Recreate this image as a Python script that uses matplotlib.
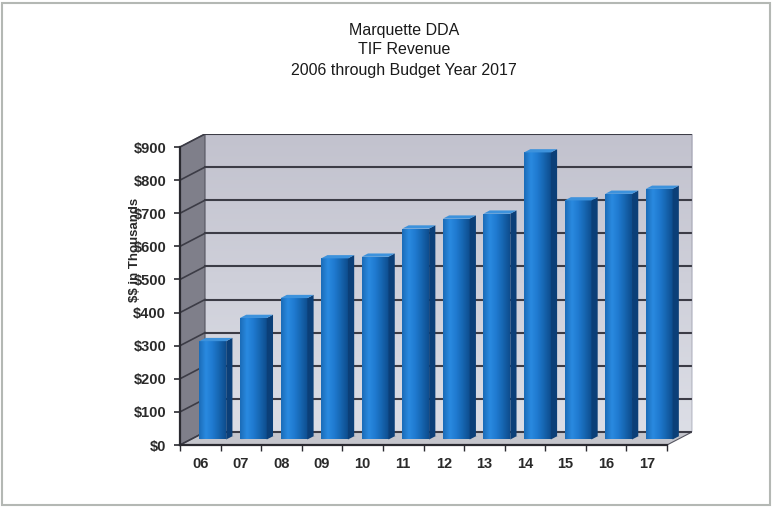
import matplotlib.pyplot as plt
from matplotlib.patches import Polygon, Rectangle
import numpy as np

plt.rcParams['font.family'] = ['Liberation Sans', 'DejaVu Sans']
plt.rcParams['text.parse_math'] = False

years = ['06', '07', '08', '09', '10', '11', '12', '13', '14', '15', '16', '17']
revenue = [300, 370, 430, 550, 555, 640, 670, 685, 870, 725, 745, 760]  # $ thousands
yticks = list(range(0, 901, 100))
ytick_labels = ['$%d' % t for t in yticks]
title_lines = ['Marquette DDA', 'TIF Revenue', '2006 through Budget Year 2017']

# depth of the fake 3d box, in data units
DX = 0.616
DY = 39.3
n = len(years)
x = np.arange(n)

fig = plt.figure(figsize=(7.72, 5.08), dpi=100)
fig.patch.set_facecolor('white')
ax = fig.add_axes([180 / 772, 1 - 445 / 508, 512 / 772, 311 / 508])
ax.set_xlim(-0.5, n - 0.5 + DX)
ax.set_ylim(0, 900 + DY)
ax.set_facecolor('none')

x0, x1 = -0.5, n - 0.5

# back wall with a soft vertical gradient
grad = np.linspace(0, 1, 256).reshape(-1, 1)
wall_cmap = plt.matplotlib.colors.LinearSegmentedColormap.from_list(
    'wall', ['#dcdee6', '#c2c2ce'])
ax.imshow(grad, cmap=wall_cmap, aspect='auto', origin='lower',
          extent=(x0 + DX, x1 + DX, DY, 900 + DY), zorder=0)

# left side wall
side = Polygon([(x0, 0), (x0 + DX, DY), (x0 + DX, 900 + DY), (x0, 900)],
               closed=True, facecolor='#7f7f8a', edgecolor='#555560', lw=0.8, zorder=1)
ax.add_patch(side)
# floor
floor = Polygon([(x0, 0), (x1, 0), (x1 + DX, DY), (x0 + DX, DY)],
                closed=True, facecolor='#c4c5cc', edgecolor='#555560', lw=0.8, zorder=1)
ax.add_patch(floor)

# gridlines on back and side wall
for t in yticks:
    ax.plot([x0 + DX, x1 + DX], [t + DY, t + DY], color='#3c3c46', lw=1.5, zorder=2)
    ax.plot([x0, x0 + DX], [t, t + DY], color='#3c3c46', lw=1.2, zorder=2)
ax.plot([x1 + DX, x1 + DX], [DY, 900 + DY], color='#6a6a74', lw=1.0, zorder=2)

# bars: front face gradient, right side and top
bar_cmap = plt.matplotlib.colors.LinearSegmentedColormap.from_list(
    'bar', ['#1b6cb8', '#2a8ae0', '#1f7ad0', '#1665b0', '#0e4d8e'])
hgrad = np.linspace(0, 1, 64).reshape(1, -1)
hw = 0.33
f = 0.25
for xi, v in zip(x, revenue):
    cx = xi + DX / 2
    bx0, bx1 = cx - hw, cx + hw
    by0, by1 = DY / 2 - 3, v + DY / 2 - 6
    # shadow on the floor
    ax.add_patch(Polygon([(bx0, by0), (bx1 + f * DX, by0 + f * DY), (bx1 + 0.2, by0 + 8),
                          (bx0 + 0.1, by0 + 4)],
                         closed=True, facecolor='#a9aab4', edgecolor='none', zorder=3))
    face = Rectangle((bx0, by0), bx1 - bx0, by1 - by0, facecolor='none', edgecolor='none')
    ax.add_patch(face)
    im = ax.imshow(hgrad, cmap=bar_cmap, aspect='auto',
                   extent=(bx0, bx1, by0, by1), zorder=4)
    im.set_clip_path(face)
    ax.add_patch(Polygon([(bx1, by0), (bx1 + f * DX, by0 + f * DY),
                          (bx1 + f * DX, by1 + f * DY), (bx1, by1)],
                         closed=True, facecolor='#0b3f78', edgecolor='none', zorder=4))
    ax.add_patch(Polygon([(bx0, by1), (bx1, by1), (bx1 + f * DX, by1 + f * DY),
                          (bx0 + f * DX, by1 + f * DY)],
                         closed=True, facecolor='#3d92dc', edgecolor='none', zorder=4))

# axes lines and ticks
for s in ['top', 'right']:
    ax.spines[s].set_visible(False)
ax.spines['left'].set_bounds(0, 900)
ax.spines['bottom'].set_bounds(x0, x1)
for s in ['left', 'bottom']:
    ax.spines[s].set_color('#2a2a30')
    ax.spines[s].set_linewidth(1.6)
    ax.spines[s].set_zorder(5)

ax.set_yticks(yticks)
ax.set_yticklabels(ytick_labels, fontsize=10.5, fontweight='bold', color='#2a2a2a')
ax.tick_params(axis='y', length=4, width=1.2, color='#2a2a30', pad=6)
ax.set_xticks(x)
ax.set_xticklabels(years, fontsize=10.5, fontweight='bold', color='#2a2a2a')
ax.set_xticks(np.arange(x0, x1 + 0.01, 1.0), minor=True)
ax.tick_params(axis='x', which='major', length=0, pad=9)
ax.tick_params(axis='x', which='minor', length=4, width=1.0, color='#2a2a30')

fig.text(135 / 772, 1 - 250 / 508, '$$ in Thousands', rotation=90, ha='center',
         va='center', fontsize=9.5, fontweight='bold', color='#2a2a2a')

for line, ypx in zip(title_lines, [31, 50, 70]):
    fig.text(404 / 772, 1 - ypx / 508, line, ha='center', va='center',
             fontsize=11.5, color='#1a1a1a')

# thin frame around the whole chart
fig.add_artist(Rectangle((2 / 772, 1 - 505 / 508), 768 / 772, 502 / 508,
                         transform=fig.transFigure, fill=False,
                         edgecolor='#b4b8b4', lw=1.5))

fig.savefig('out.png', dpi=100)
